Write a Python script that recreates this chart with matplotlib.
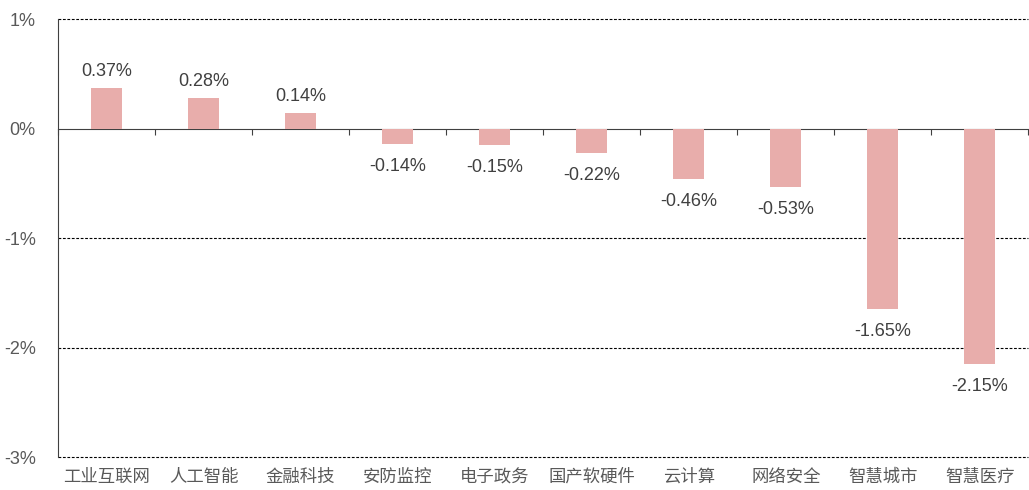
import numpy as np
import matplotlib
matplotlib.use("Agg")
import matplotlib.pyplot as plt
import matplotlib.transforms as mtransforms

plt.rcParams['font.family'] = ['Liberation Sans', 'Noto Sans CJK SC', 'DejaVu Sans']

# ------------------------------------------------------------
# Data
# ------------------------------------------------------------
categories = ["工业互联网", "人工智能", "金融科技", "安防监控", "电子政务",
              "国产软硬件", "云计算", "网络安全", "智慧城市", "智慧医疗"]
values = [0.37, 0.28, 0.14, -0.14, -0.15, -0.22, -0.46, -0.53, -1.65, -2.15]
y_ticks = [1, 0, -1, -2, -3]

# ------------------------------------------------------------
# Figure
# ------------------------------------------------------------
fig = plt.figure(figsize=(10.29, 4.9), dpi=100)
ax = fig.add_axes([0.0564, 0.0673, 0.943, 0.8937])

x = np.arange(len(categories))
ax.bar(x, values, width=0.32, color="#E8ADAB", zorder=3)

ax.set_xlim(-0.5, len(categories) - 0.5)
ax.set_ylim(-3, 1)

# dashed grid lines
for t in y_ticks:
    if t != 0:
        ax.axhline(t, color="black", linestyle=(0, (2.5, 1.5)), linewidth=0.8,
                   zorder=1, clip_on=False)

ax.set_yticks(y_ticks)
ax.set_yticklabels(["{}%".format(t) for t in y_ticks], fontsize=13, color="#595959")
ax.tick_params(axis="y", length=0, pad=16)

# bottom spine at zero, ticks at category borders
for s in ["top", "right"]:
    ax.spines[s].set_visible(False)
ax.spines["bottom"].set_position(("data", 0))
ax.spines["bottom"].set_color("#404040")
ax.spines["left"].set_color("#404040")
ax.set_xticks(np.arange(len(categories) + 1) - 0.5)
ax.set_xticklabels([])
ax.tick_params(axis="x", direction="out", length=4, color="#404040")

# category labels at the bottom
trans = mtransforms.blended_transform_factory(ax.transData, ax.transAxes)
for xi, c in zip(x, categories):
    ax.text(xi, -0.025, c, transform=trans, ha="center", va="top",
            fontsize=12.5, color="#595959", family=["Noto Sans CJK SC"])

# value labels
for xi, v in zip(x, values):
    if v >= 0:
        ax.annotate("{:.2f}%".format(v), xy=(xi, v), xytext=(0, 6),
                    textcoords="offset points", ha="center", va="bottom",
                    fontsize=13, color="#404040")
    else:
        ax.annotate("{:.2f}%".format(v), xy=(xi, v), xytext=(0, -10),
                    textcoords="offset points", ha="center", va="top",
                    fontsize=13, color="#404040")

fig.savefig("out.png", dpi=100)
